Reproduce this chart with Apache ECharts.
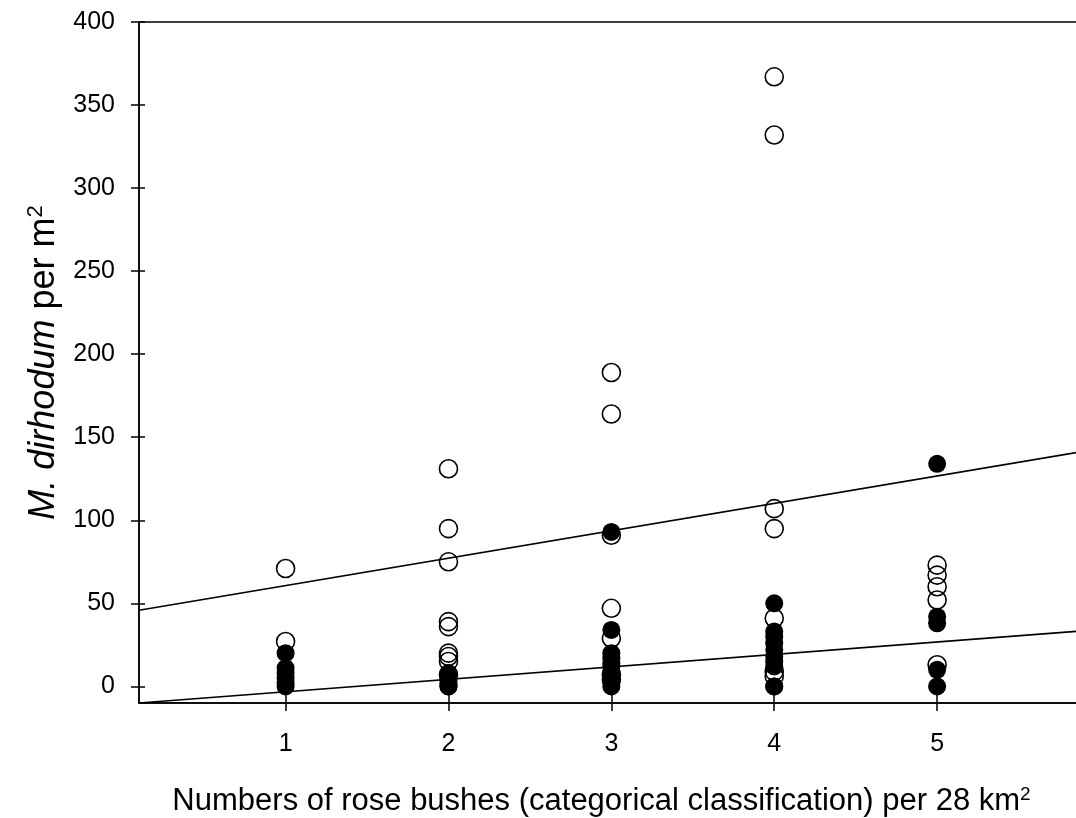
<!DOCTYPE html>
<html><head><meta charset="utf-8">
<script src="https://cdn.jsdelivr.net/npm/echarts@6/dist/echarts.min.js"></script>
<style>html,body{margin:0;padding:0;background:#fff}#c{width:1076px;height:818px}</style>
</head><body><div id="c"></div>
<script>
// Categories on the x axis
const categories = [1, 2, 3, 4, 5];
// Y tick labels
const yTicks = [0, 50, 100, 150, 200, 250, 300, 350, 400];
// Open circles: values per category (same order as categories)
const openCat1 = [71, 27];
const openCat2 = [131, 95, 75, 39, 36, 20, 18, 15, 7];
const openCat3 = [189, 164, 91, 47, 29, 7, 4];
const openCat4 = [367, 332, 107, 95, 41, 9, 6];
const openCat5 = [73, 67, 60, 52, 13];
// Filled circles: values per category
const filledCat1 = [20, 11, 8, 5, 2, 0];
const filledCat2 = [8, 6, 4, 2, 1, 0, 0];
const filledCat3 = [93, 34, 20, 17, 14, 12, 9, 3, 0];
const filledCat4 = [50, 33, 30, 26, 22, 18, 15, 12, 0, 0];
const filledCat5 = [134, 42, 38, 10, 0];
// Fitted lines (endpoints)
const upperLineX = [0.1, 6];
const upperLineY = [45.8, 143.2];
const lowerLineX = [0.1, 6];
const lowerLineY = [-10, 34.2];

const openGroups = [openCat1, openCat2, openCat3, openCat4, openCat5];
const filledGroups = [filledCat1, filledCat2, filledCat3, filledCat4, filledCat5];
function pts(groups) {
  const out = [];
  groups.forEach((g, i) => g.forEach(v => out.push([categories[i], v])));
  return out;
}
const FONT = '"Liberation Sans", Arial, sans-serif';
const chart = echarts.init(document.getElementById('c'), null, {renderer: 'canvas'});
chart.setOption({
  animation: false,
  backgroundColor: '#fff',
  grid: {left: 139, top: 22, width: 961, height: 681, show: true, borderColor: '#000', borderWidth: 1.5,
         backgroundColor: 'transparent', containLabel: false, outerBoundsMode: 'none'},
  xAxis: [{
    type: 'value', min: 0.1, max: 6, position: 'bottom',
    axisLine: {show: true, onZero: false, lineStyle: {color: '#000', width: 1.5}},
    axisTick: {show: true, customValues: categories, length: 8, lineStyle: {color: '#000', width: 1.5}},
    axisLabel: {show: true, customValues: categories, color: '#000', fontSize: 25, fontFamily: FONT, margin: 29},
    splitLine: {show: false},
    name: 'Numbers of rose bushes (categorical classification) per 28 km{sup|2}',
    nameLocation: 'middle', nameGap: 82,
    nameTextStyle: {color: '#000', fontSize: 31, fontFamily: FONT, padding: [0, 36, 0, 0],
      rich: {sup: {fontSize: 19, fontFamily: FONT, color: '#000', verticalAlign: 'top', padding: [0, 0, 14, 0]}}}
  }, {
    type: 'value', min: 0.1, max: 6, position: 'bottom',
    axisLine: {show: false, onZero: false},
    axisTick: {show: true, inside: true, customValues: categories, length: 8, lineStyle: {color: '#000', width: 1.5}},
    axisLabel: {show: false}, splitLine: {show: false}
  }],
  yAxis: [{
    type: 'value', min: -10, max: 400, position: 'left',
    axisLine: {show: true, onZero: false, lineStyle: {color: '#000', width: 1.5}},
    axisTick: {show: true, customValues: yTicks, length: 8, lineStyle: {color: '#000', width: 1.5}},
    axisLabel: {show: true, customValues: yTicks, color: '#000', fontSize: 25, fontFamily: FONT, margin: 24},
    splitLine: {show: false},
    name: '{i|M. dirhodum} per m{sup|2}',
    nameLocation: 'middle', nameGap: 71, nameRotate: 90,
    nameTextStyle: {color: '#000', fontSize: 36, fontFamily: FONT,
      rich: {
        i: {fontStyle: 'italic', fontSize: 36, fontFamily: FONT, color: '#000'},
        sup: {fontSize: 22, fontFamily: FONT, color: '#000', verticalAlign: 'top', padding: [0, 0, 16, 0]}
      }}
  }, {
    type: 'value', min: -10, max: 400, position: 'left',
    axisLine: {show: false, onZero: false},
    axisTick: {show: true, inside: true, customValues: yTicks, length: 6, lineStyle: {color: '#000', width: 1.5}},
    axisLabel: {show: false}, splitLine: {show: false}
  }],
  series: [{
    type: 'scatter', name: 'open', data: pts(openGroups), symbol: 'circle', symbolSize: 18, z: 2,
    itemStyle: {color: 'rgba(255,255,255,0)', borderColor: '#000', borderWidth: 1.6, opacity: 1}
  }, {
    type: 'scatter', name: 'filled', data: pts(filledGroups), symbol: 'circle', symbolSize: 18, z: 3,
    itemStyle: {color: '#000', borderColor: '#000', borderWidth: 0, opacity: 1}
  }, {
    type: 'line', data: upperLineX.map((x, i) => [x, upperLineY[i]]), showSymbol: false, z: 4, clip: true,
    lineStyle: {color: '#000', width: 1.6}
  }, {
    type: 'line', data: lowerLineX.map((x, i) => [x, lowerLineY[i]]), showSymbol: false, z: 4, clip: true,
    lineStyle: {color: '#000', width: 1.6}
  }]
});
</script></body></html>
